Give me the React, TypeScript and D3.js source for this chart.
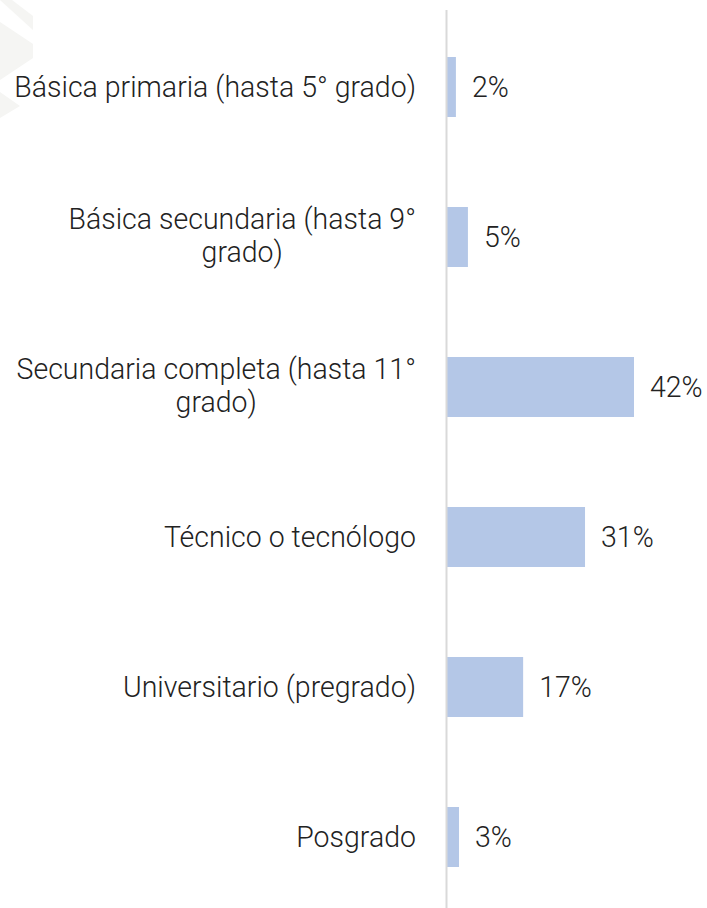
import * as d3 from "d3";
import React from "react";

const categories = [
  "Básica primaria (hasta 5° grado)",
  "Básica secundaria (hasta 9°|grado)",
  "Secundaria completa (hasta 11°|grado)",
  "Técnico o tecnólogo",
  "Universitario (pregrado)",
  "Posgrado",
];
const values = [0.02, 0.047, 0.42, 0.31, 0.171, 0.027];
const valueLabels = ["2%", "5%", "42%", "31%", "17%", "3%"];

const W = 707;
const H = 908;

export default function App() {
  const ref = React.useRef<SVGSVGElement>(null);

  React.useEffect(() => {
    const svg = d3.select(ref.current);
    svg.selectAll("*").remove();

    // faint watermark stripes top-left
    const wm = svg.append("g").attr("fill", "#f5f5f3");
    wm.append("path").attr("d", "M0,0 L12,0 L33,16 L33,30 Z");
    wm.append("path").attr("d", "M0,22 L33,44 L33,58 L0,80 Z");
    wm.append("path").attr("d", "M0,92 L20,106 L0,118 Z");

    const x = d3.scaleLinear().domain([0, 0.42]).range([447, 634]);
    const y = d3.scaleBand<number>()
      .domain(d3.range(categories.length))
      .range([12, 912])
      .paddingInner(0.6)
      .paddingOuter(0.3);

    svg.append("g")
      .selectAll("rect")
      .data(values)
      .join("rect")
      .attr("x", x(0))
      .attr("y", (_, i) => y(i)!)
      .attr("width", (d) => x(d) - x(0))
      .attr("height", y.bandwidth())
      .attr("fill", "#b4c7e7");

    svg.append("line")
      .attr("x1", x(0) - 0.5)
      .attr("x2", x(0) - 0.5)
      .attr("y1", 10)
      .attr("y2", H)
      .attr("stroke", "#d9d9d9")
      .attr("stroke-width", 2);

    const font = "Roboto";
    const fs = 30;
    const sx = 0.95; // narrow the glyphs a bit (condensed look)
    const lineH = 33.5;

    // category labels, block right-aligned, lines centred
    categories.forEach((c, i) => {
      const lines = c.split("|");
      const cy = y(i)! + y.bandwidth() / 2;
      const y0 = cy - ((lines.length - 1) * lineH) / 2 - (lines.length > 1 ? 1.5 : 0);
      const t = svg.append("text")
        .attr("font-family", font)
        .attr("font-weight", 300)
        .attr("font-size", fs)
        .attr("fill", "#222")
        .attr("text-anchor", "middle");
      lines.forEach((l, j) => {
        t.append("tspan").attr("x", 0).attr("y", y0 + j * lineH).attr("dy", "0.33em").text(l);
      });
      const widths: number[] = [];
      t.selectAll<SVGTSpanElement, unknown>("tspan").each(function () {
        widths.push(this.getComputedTextLength());
      });
      const maxW = (d3.max(widths) || 0) * sx;
      t.attr("transform", `translate(${416 - maxW / 2},0) scale(${sx},1)`);
    });

    svg.append("g")
      .selectAll("text")
      .data(values)
      .join("text")
      .attr("transform", (d) => `translate(${x(d) + 16},0) scale(${sx},1)`)
      .attr("x", 0)
      .attr("y", (_, i) => y(i)! + y.bandwidth() / 2)
      .attr("dy", "0.33em")
      .attr("font-family", font)
      .attr("font-weight", 300)
      .attr("font-size", fs)
      .attr("fill", "#222")
      .text((_, i) => valueLabels[i]);
  }, []);

  return (
    <svg
      ref={ref}
      width={W}
      height={H}
      style={{ position: "absolute", left: 0, top: 0, background: "#fff" }}
    />
  );
}
